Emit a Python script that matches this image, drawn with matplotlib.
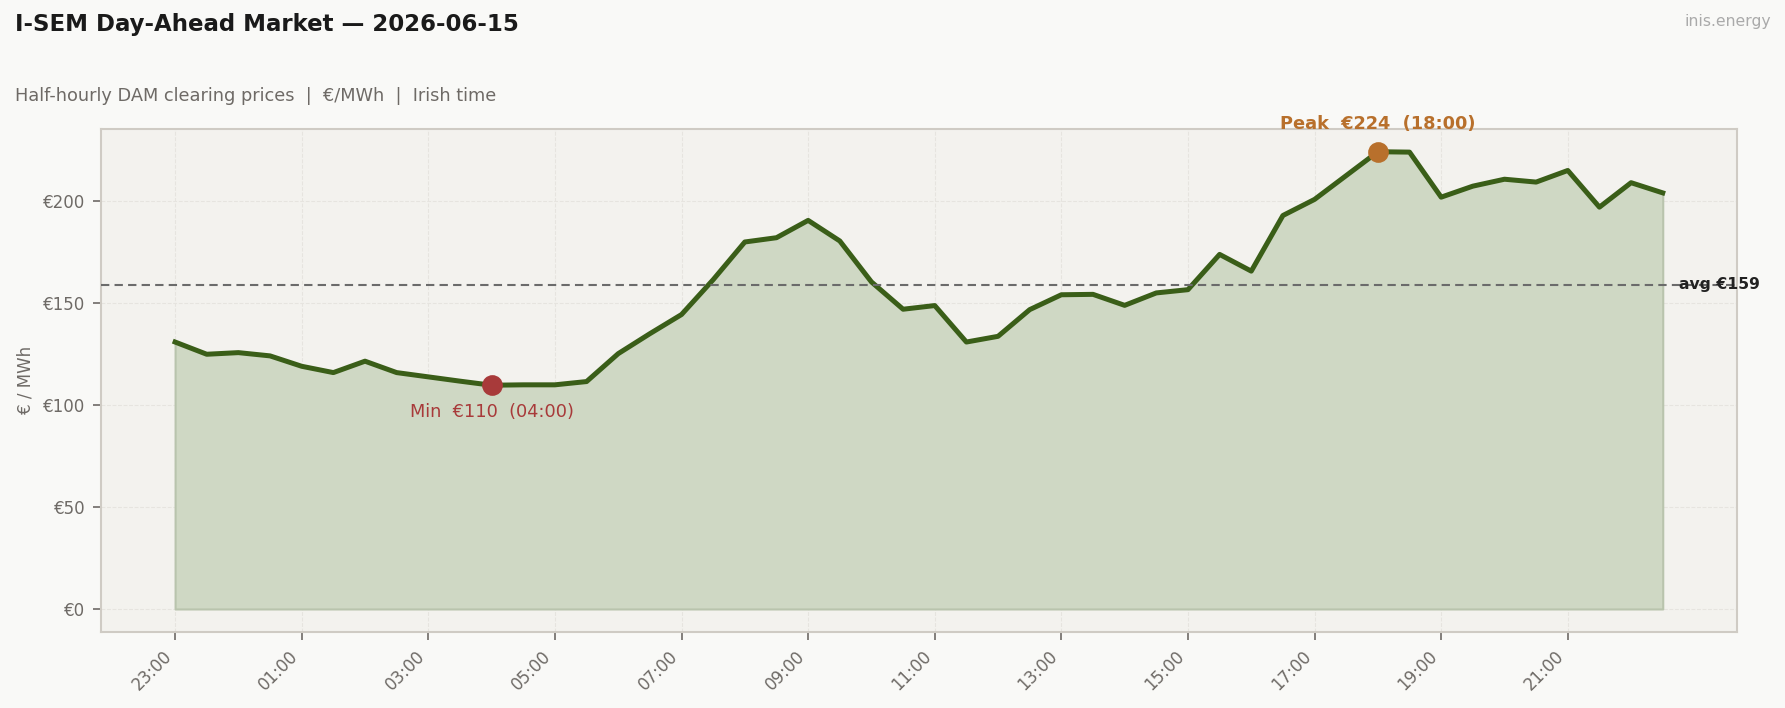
import numpy as np
import matplotlib
matplotlib.use("Agg")
import matplotlib.pyplot as plt

# half-hourly slots, trading day starts 23:00
times = ["23:00", "23:30", "00:00", "00:30", "01:00", "01:30", "02:00", "02:30",
         "03:00", "03:30", "04:00", "04:30", "05:00", "05:30", "06:00", "06:30",
         "07:00", "07:30", "08:00", "08:30", "09:00", "09:30", "10:00", "10:30",
         "11:00", "11:30", "12:00", "12:30", "13:00", "13:30", "14:00", "14:30",
         "15:00", "15:30", "16:00", "16:30", "17:00", "17:30", "18:00", "18:30",
         "19:00", "19:30", "20:00", "20:30", "21:00", "21:30", "22:00", "22:30"]
prices = [131.0, 125.0, 125.8, 124.2, 119.1, 116.0, 121.6, 116.0,
          113.9, 111.8, 109.8, 110.0, 110.0, 111.6, 125.3, 135.1,
          144.5, 161.6, 180.1, 182.2, 190.7, 180.6, 160.5, 147.1,
          148.9, 131.0, 133.8, 146.9, 154.2, 154.4, 149.0, 155.1,
          156.7, 174.0, 165.8, 193.1, 201.0, 212.7, 224.4, 224.2,
          202.1, 207.5, 210.9, 209.5, 215.2, 197.2, 209.2, 204.2]

BG = "#f9f9f7"
AX_BG = "#f3f2ee"
LINE = "#3a5e18"
FILL = "#cfd8c4"
RED = "#a83a3a"
ORANGE = "#b8702c"
GREY = "#6e6a66"

x = np.arange(len(prices))
y = np.array(prices)
avg = y.mean()
imin = int(np.argmin(y))
imax = int(np.argmax(y))

fig = plt.figure(figsize=(11.9, 4.72), dpi=150, facecolor=BG)
ax = fig.add_axes([0.0566, 0.1076, 0.9164, 0.7104])
ax.set_facecolor(AX_BG)

ax.fill_between(x, 0, y, facecolor=FILL, edgecolor="#b9c4ad", linewidth=1.0, zorder=2)
ax.plot(x, y, color=LINE, lw=2.4, zorder=3)
ax.axhline(avg, color="#6b6b6b", lw=1.0, ls=(0, (4, 2.5)), zorder=4)
ax.text(len(y) - 0.5, avg, f"avg €{avg:.0f}", fontsize=7.5, fontweight="bold",
        color="#222222", va="center", ha="left", zorder=5)

# min / max markers
ax.scatter([x[imin]], [y[imin]], s=80, color=RED, zorder=6)
ax.annotate(f"Min  €{y[imin]:.0f}  ({times[imin]})", (x[imin], y[imin]),
            xytext=(0, -8.5), textcoords="offset points", ha="center", va="top",
            fontsize=8.5, color=RED)
ax.scatter([x[imax]], [y[imax]], s=80, color=ORANGE, zorder=6)
ax.annotate(f"Peak  €{y[imax]:.0f}  ({times[imax]})", (x[imax], y[imax]),
            xytext=(0, 9), textcoords="offset points", ha="center", va="bottom",
            fontsize=8.5, fontweight="bold", color=ORANGE, annotation_clip=False)

ax.set_xlim(-2.34, len(y) + 1.34)
ax.set_ylim(-0.05 * y.max(), 1.05 * y.max())
ax.set_xticks(x[::4])
ax.set_xticklabels(times[::4], rotation=45, ha="right")
ax.set_yticks([0, 50, 100, 150, 200])
ax.set_yticklabels([f"€{v}" for v in [0, 50, 100, 150, 200]])
ax.tick_params(colors=GREY, labelsize=8, length=4, width=0.8)
ax.set_ylabel("€ / MWh", color=GREY, fontsize=8)
ax.grid(True, ls="--", lw=0.5, color="#e6e4df", zorder=0)
for s in ax.spines.values():
    s.set_color("#cfcbc4")
    s.set_linewidth(1.0)

fig.text(0.0085, 0.965, "I-SEM Day-Ahead Market — 2026-06-15", fontsize=11,
         fontweight="bold", color="#1a1a1a", va="center", ha="left")
fig.text(0.0085, 0.865, "Half-hourly DAM clearing prices  |  €/MWh  |  Irish time",
         fontsize=8.5, color=GREY, va="center", ha="left")
fig.text(0.992, 0.969, "inis.energy", fontsize=7.5, color="#aaaaaa", va="center", ha="right")

fig.savefig("out.png", dpi=150, facecolor=BG)
